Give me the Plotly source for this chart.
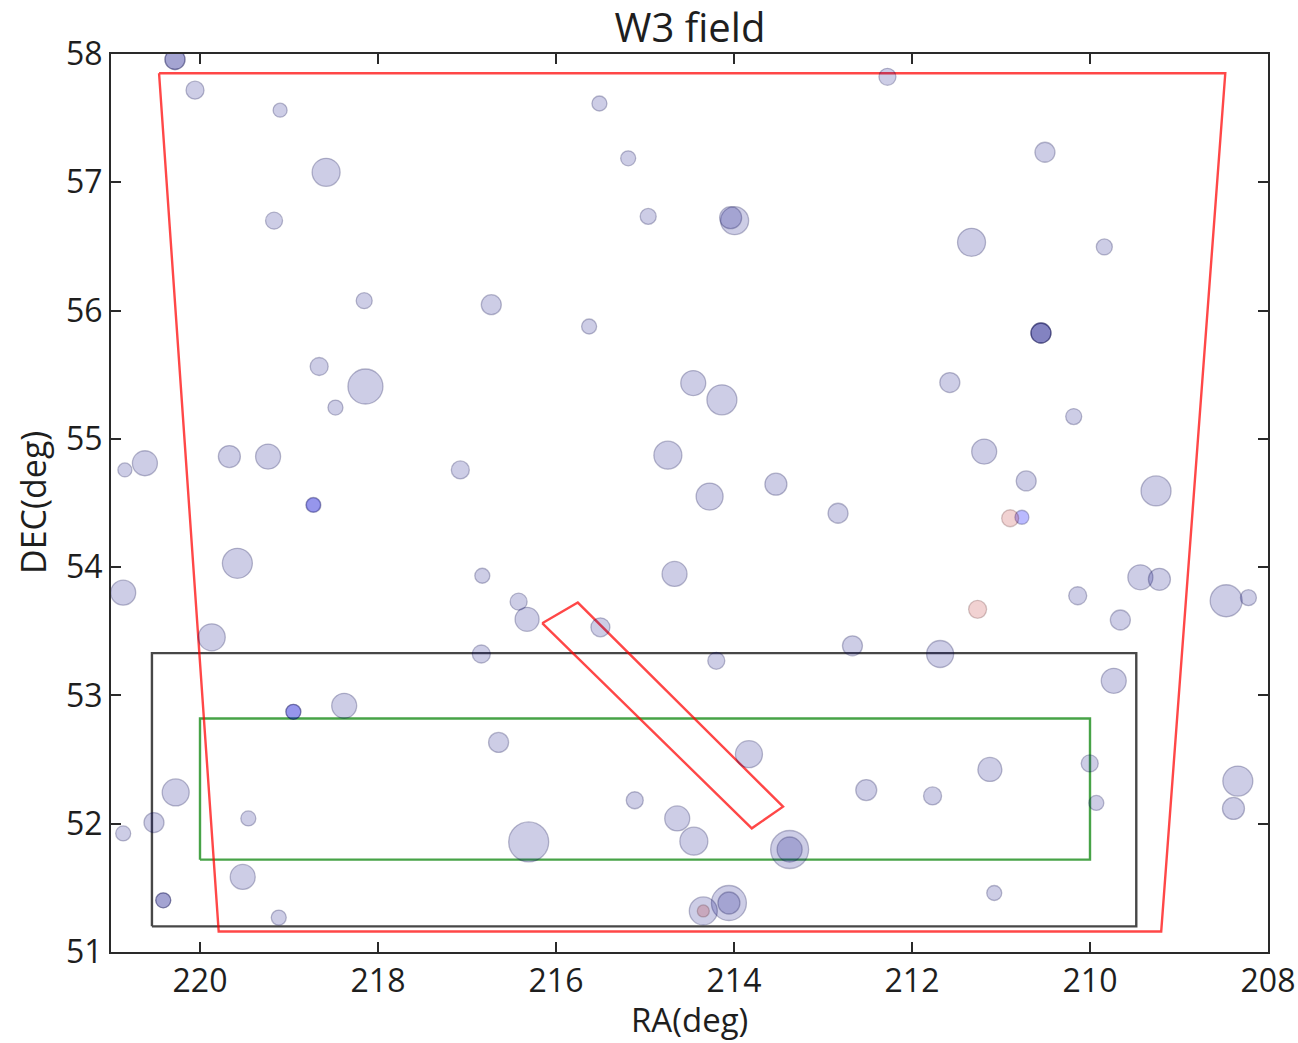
import plotly.graph_objects as go

# ---- data (RA, DEC in degrees; marker diameter in px) ----
navy_ra = [220.281, 220.281, 220.056, 219.100, 218.583, 219.168, 218.155, 215.512, 215.189,
           214.964, 213.993, 214.038, 216.727, 215.628, 212.276, 210.506, 211.331, 209.839,
           210.551, 210.551, 210.551, 218.661, 218.141, 218.478, 220.844, 220.619, 219.670,
           219.235, 218.726, 219.580, 220.863, 219.868, 217.075, 214.458, 214.136, 214.743,
           214.274, 213.529, 212.831, 216.828, 214.668, 216.420, 216.325, 215.501, 216.839,
           214.199, 212.669, 211.575, 210.183, 211.189, 210.717, 209.258, 209.434, 209.220,
           208.470, 208.220, 210.138, 209.659, 211.684, 209.733, 218.951, 218.380, 220.273,
           220.517, 220.863, 219.457, 219.520, 220.413, 220.413, 219.115, 216.645, 213.832,
           212.514, 215.115, 214.638, 214.451, 216.307, 213.375, 213.375, 214.057, 214.057,
           214.345, 211.125, 211.769, 210.003, 209.929, 208.339, 208.388, 211.076]
navy_dec = [57.957, 57.957, 57.718, 57.562, 57.078, 56.701, 56.077, 57.614, 57.187,
            56.734, 56.701, 56.724, 56.046, 55.876, 57.822, 57.234, 56.532, 56.496,
            55.825, 55.825, 55.825, 55.564, 55.408, 55.244, 54.758, 54.810, 54.862,
            54.862, 54.485, 54.030, 53.801, 53.453, 54.758, 55.435, 55.304, 54.873,
            54.550, 54.647, 54.420, 53.933, 53.947, 53.731, 53.593, 53.531, 53.323,
            53.270, 53.387, 55.439, 55.174, 54.901, 54.672, 54.594, 53.921, 53.905,
            53.738, 53.762, 53.777, 53.588, 53.323, 53.114, 52.872, 52.919, 52.244,
            52.009, 51.924, 52.041, 51.585, 51.403, 51.403, 51.268, 52.634, 52.542,
            52.262, 52.183, 52.041, 51.864, 51.858, 51.799, 51.799, 51.382, 51.382,
            51.320, 52.423, 52.217, 52.470, 52.162, 52.332, 52.119, 51.460]
navy_size = [20, 20, 18, 14, 28, 17, 16, 15, 15,
             16, 28, 22, 20, 15, 17, 20, 28, 16,
             20, 20, 20, 18, 35, 15, 14, 25, 22,
             25, 14, 30, 25, 27, 18, 25, 30, 28,
             27, 22, 20, 15, 25, 17, 24, 19, 18,
             17, 20, 20, 16, 25, 20, 30, 25, 22,
             32, 16, 18, 20, 27, 25, 15, 25, 27,
             20, 15, 15, 25, 15, 15, 15, 20, 27,
             21, 17, 25, 28, 40, 38, 25, 35, 22,
             28, 24, 18, 17, 15, 30, 22, 15]

blue_ra = [218.726, 218.951, 210.765]
blue_dec = [54.485, 52.872, 54.389]
blue_size = [15, 15, 14]

red_ra = [210.897, 211.263, 214.345]
red_dec = [54.381, 53.671, 51.320]
red_size = [17, 18, 12]

# survey footprints (RA, DEC vertices)
poly_red_ra = [220.46, 208.48, 209.20, 219.79, 220.46]
poly_red_dec = [57.85, 57.85, 51.16, 51.16, 57.85]
rect_black_ra = [220.54, 209.48, 209.48, 220.54, 220.54]
rect_black_dec = [51.20, 51.20, 53.33, 53.33, 51.20]
rect_green_ra = [220.00, 210.00, 210.00, 220.00, 220.00]
rect_green_dec = [51.72, 51.72, 52.82, 52.82, 51.72]
strip_red_ra = [216.155, 215.755, 213.449, 213.800, 216.155]
strip_red_dec = [53.563, 53.724, 52.133, 51.964, 53.563]

x_ticks = [220, 218, 216, 214, 212, 210, 208]
y_ticks = [51, 52, 53, 54, 55, 56, 57, 58]

FONT = "Open Sans"
TXT = "#1e1e1e"

fig = go.Figure()

for xs, ys, col in [(rect_black_ra, rect_black_dec, "rgba(0,0,0,0.72)"),
                    (rect_green_ra, rect_green_dec, "rgba(0,128,0,0.72)"),
                    (poly_red_ra, poly_red_dec, "rgba(255,0,0,0.72)"),
                    (strip_red_ra, strip_red_dec, "rgba(255,0,0,0.72)")]:
    fig.add_trace(go.Scatter(x=xs, y=ys, mode="lines",
                             line=dict(color=col, width=2.4),
                             hoverinfo="skip", showlegend=False))

fig.add_trace(go.Scatter(x=navy_ra, y=navy_dec, mode="markers", showlegend=False,
                         marker=dict(size=navy_size, color="rgba(0,0,128,0.28)",
                                     line=dict(color="rgba(0,0,70,0.38)", width=1.3))))
fig.add_trace(go.Scatter(x=blue_ra, y=blue_dec, mode="markers", showlegend=False,
                         marker=dict(size=blue_size, color="rgba(0,0,255,0.38)",
                                     line=dict(color="rgba(0,0,70,0.38)", width=1.3))))
fig.add_trace(go.Scatter(x=red_ra, y=red_dec, mode="markers", showlegend=False,
                         marker=dict(size=red_size, color="rgba(180,0,0,0.25)",
                                     line=dict(color="rgba(60,0,0,0.3)", width=1.3))))

axis_common = dict(showgrid=False, zeroline=False, showline=True, linecolor="#2a2a2a",
                   linewidth=2, mirror="ticks", ticks="inside", ticklen=10, tickwidth=1.5,
                   tickcolor="#2a2a2a", automargin=False,
                   tickfont=dict(family=FONT, size=32, color=TXT))

fig.update_layout(
    width=1298, height=1043,
    margin=dict(l=111, r=30, t=54, b=91),
    paper_bgcolor="white", plot_bgcolor="white",
    xaxis=dict(range=[221, 208], tickvals=x_ticks, ticktext=[str(v) for v in x_ticks],
               **axis_common),
    yaxis=dict(range=[51, 58], tickvals=y_ticks, ticktext=[str(v) for v in y_ticks],
               **axis_common),
    title=dict(text="W3 field", x=(690 - 111) / 1157, xref="paper", xanchor="center",
               y=1 - 28 / 1043, yanchor="middle",
               font=dict(family=FONT, size=40, color=TXT)),
    annotations=[
        dict(text="RA(deg)", xref="paper", yref="paper", x=0.5, y=-(1019 - 952) / 898,
             xanchor="center", yanchor="middle", showarrow=False,
             font=dict(family=FONT, size=33, color=TXT)),
        dict(text="DEC(deg)", xref="paper", yref="paper", x=-(111 - 33) / 1157, y=0.5,
             xanchor="center", yanchor="middle", textangle=-90, showarrow=False,
             font=dict(family=FONT, size=34, color=TXT)),
    ],
)

fig.write_html("out.html")
